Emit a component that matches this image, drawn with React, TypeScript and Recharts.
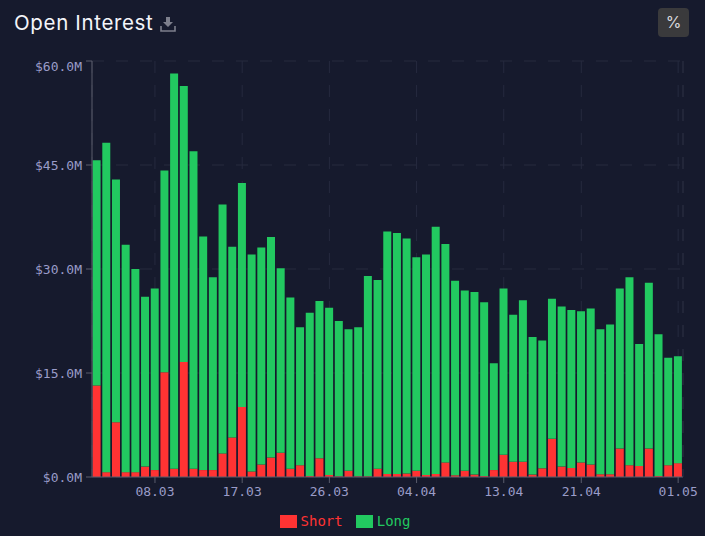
import { Bar, BarChart, CartesianGrid, Legend, XAxis, YAxis } from 'recharts'

const dates = [
  '02.03', '03.03', '04.03', '05.03', '06.03', '07.03', '08.03', '09.03', '10.03', '11.03',
  '12.03', '13.03', '14.03', '15.03', '16.03', '17.03', '18.03', '19.03', '20.03', '21.03',
  '22.03', '23.03', '24.03', '25.03', '26.03', '27.03', '28.03', '29.03', '30.03', '31.03',
  '01.04', '02.04', '03.04', '04.04', '05.04', '06.04', '07.04', '08.04', '09.04', '10.04',
  '11.04', '12.04', '13.04', '14.04', '15.04', '16.04', '17.04', '18.04', '19.04', '20.04',
  '21.04', '22.04', '23.04', '24.04', '25.04', '26.04', '27.04', '28.04', '29.04', '30.04',
  '01.05',
]
const short = [
  13.2, 0.7, 7.9, 0.7, 0.7, 1.5, 1.0, 15.1, 1.2, 16.6,
  1.2, 1.0, 1.0, 3.4, 5.7, 10.1, 0.8, 1.8, 2.8, 3.5,
  1.2, 1.7, 0.15, 2.7, 0.3, 0.1, 0.9, 0.1, 0.1, 1.2,
  0.45, 0.45, 0.5, 0.9, 0.3, 0.45, 2.1, 0.25, 0.9, 0.35,
  0.15, 1.0, 3.2, 2.2, 2.2, 0.35, 1.25, 5.5, 1.5, 1.3,
  2.1, 1.8, 0.4, 0.4, 4.1, 1.7, 1.6, 4.1, 0.15, 1.7,
  2.0,
]
const long = [
  32.5, 47.5, 35.0, 32.8, 29.3, 24.5, 26.2, 29.1, 57.0, 39.8,
  45.8, 33.7, 27.8, 35.9, 27.5, 32.3, 31.3, 31.3, 31.8, 26.6,
  24.7, 19.9, 23.55, 22.7, 24.1, 22.4, 20.4, 21.5, 28.9, 27.2,
  34.95, 34.75, 33.9, 30.8, 31.8, 35.65, 31.5, 28.05, 26.0, 26.35,
  25.05, 15.4, 24.0, 21.2, 23.3, 19.85, 18.45, 20.2, 23.1, 22.8,
  21.8, 22.5, 20.9, 21.6, 23.1, 27.1, 17.6, 23.9, 20.45, 15.5,
  15.4,
]
const xTicks = ['08.03', '17.03', '26.03', '04.04', '13.04', '21.04', '01.05']
const yTicks = [0, 15, 30, 45, 60]

const data = dates.map((date, i) => ({ date, short: short[i], long: long[i] }))

const mono = '"DejaVu Sans Mono", monospace'
const tickColor = '#9a9cc8'
const axisColor = '#5a5c6c'
const gridColor = '#262a3f'

function YTick({ x, y, payload }: any) {
  // top label sits a little under its tick
  const shift = payload.value === 60 ? 5 : 0
  return (
    <text x={x} y={y + shift} dy={4.5} textAnchor="end" fill={tickColor} fontSize={13} fontFamily={mono}>
      ${payload.value.toFixed(1)}M
    </text>
  )
}

function LegendRow({ payload }: any) {
  return (
    <div style={{ display: 'flex', justifyContent: 'center', gap: 13, fontFamily: mono, fontSize: 14, lineHeight: '16px', marginLeft: -15 }}>
      {payload.map((p: any) => (
        <div key={p.value} style={{ display: 'flex', alignItems: 'center', gap: 4, color: p.color }}>
          <span style={{ display: 'block', width: 17, height: 13, background: p.color }} />
          {p.value}
        </div>
      ))}
    </div>
  )
}

export default function App() {
  return (
    <div style={{ position: 'fixed', left: 0, top: 0, width: 705, height: 536, background: '#161a2d', overflow: 'hidden' }}>
      <div style={{ position: 'absolute', left: 14, top: 10, color: '#f4f5fa', fontFamily: 'Inter, sans-serif', fontSize: 20.5, fontWeight: 400, letterSpacing: 0.65, lineHeight: '26px', whiteSpace: 'nowrap' }}>
        Open Interest
      </div>
      <svg style={{ position: 'absolute', left: 160, top: 16 }} width={16} height={16} viewBox="0 0 16 16">
        <path d="M6 1h4v5h3l-5 5-5-5h3z" fill="#7d7f8c" />
        <path d="M1 10v5h14v-5" fill="none" stroke="#7d7f8c" strokeWidth={1.6} />
      </svg>
      <div style={{ position: 'absolute', left: 658, top: 8, width: 31, height: 29, borderRadius: 4, background: '#3a3a3c', color: '#d8d8dc', fontFamily: 'Inter, sans-serif', fontSize: 16, lineHeight: '29px', textAlign: 'center' }}>
        %
      </div>
      <BarChart
        width={705}
        height={536}
        data={data}
        margin={{ top: 61, right: 22, bottom: 0, left: 0 }}
        barCategoryGap={0.6}
        style={{ position: 'absolute', left: 0, top: 0 }}
      >
        <CartesianGrid stroke={gridColor} strokeDasharray="12 12" />
        <CartesianGrid
          stroke={gridColor}
          strokeDasharray="12 12"
          horizontal={false}
          verticalCoordinatesGenerator={({ offset }: any) => [offset.left + offset.width]}
        />
        <XAxis
          dataKey="date"
          ticks={xTicks}
          interval={0}
          height={32}
          stroke={axisColor}
          tickSize={6}
          tickMargin={4}
          tick={{ fill: tickColor, fontSize: 13, fontFamily: mono }}
        />
        <YAxis
          width={92}
          domain={[0, 60]}
          ticks={yTicks}
          stroke={axisColor}
          tickSize={6}
          tickMargin={4}
          tick={<YTick />}
        />
        <Legend
          verticalAlign="bottom"
          height={27}
          itemSorter={null}
          content={<LegendRow />}
          wrapperStyle={{ left: 0, width: 705, bottom: -4 }}
        />
        <Bar dataKey="short" name="Short" stackId="oi" fill="#ff3333" isAnimationActive={false} />
        <Bar dataKey="long" name="Long" stackId="oi" fill="#22c960" isAnimationActive={false} />
      </BarChart>
    </div>
  )
}
